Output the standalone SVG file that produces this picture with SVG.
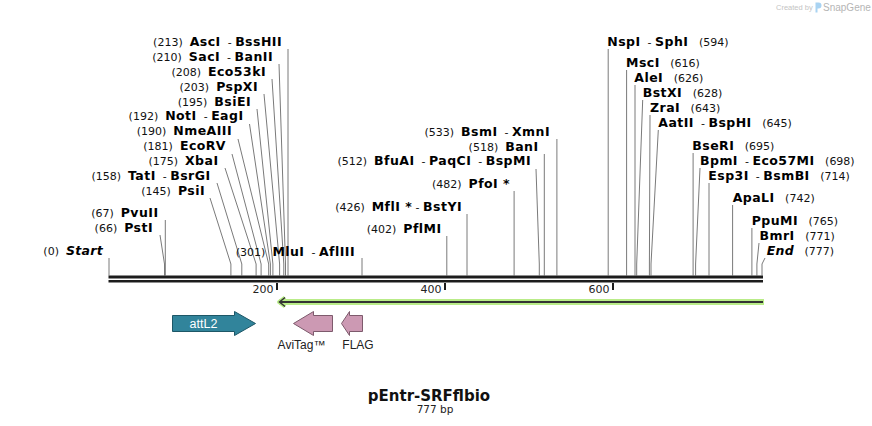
<svg xmlns="http://www.w3.org/2000/svg" width="872" height="426" viewBox="0 0 872 426">
<style>
.lbl{font-family:"DejaVu Sans",Verdana,sans-serif;font-size:11px;fill:#111;white-space:pre}
.b{font-weight:bold;font-size:12.5px;letter-spacing:0.45px;fill:#000}
.bi{font-weight:bold;font-style:italic;font-size:12.5px;letter-spacing:0.3px;fill:#000}
.c{fill:none;stroke:#7a7a7a;stroke-width:1}
.tick{font-family:"DejaVu Sans",Verdana,sans-serif;font-size:11px;fill:#222;text-anchor:end}
.flab{font-family:"Liberation Sans",Arial,sans-serif;font-size:12px;fill:#222;text-anchor:middle}
.pink{fill:#cc99b3;stroke:#7d5a6c;stroke-width:1}
</style>
<rect width="872" height="426" fill="#fff"/>
<g id="watermark">
<text x="776" y="10" font-family="Liberation Sans,Arial,sans-serif" font-size="7.5" fill="#c4c4c4">Created by</text>
<path d="M815.5 2.5 h3 a3 3 0 0 1 0 6 h-1 v4 h-2 z" fill="#a9d3f2"/>
<text x="823" y="11" font-family="Liberation Sans,Arial,sans-serif" font-size="10" fill="#b5b5b5">SnapGene</text>
</g>
<g id="connectors">
<polyline class="c" points="288,49 288,275.5"/>
<polyline class="c" points="279,64 285.5,264 285.5,275.5"/>
<polyline class="c" points="272,79 283.8,264 283.8,275.5"/>
<polyline class="c" points="264,94 279.6,264 279.6,275.5"/>
<polyline class="c" points="257,109 272.9,264 272.9,275.5"/>
<polyline class="c" points="249.5,124 270.4,264 270.4,275.5"/>
<polyline class="c" points="238,139 268.7,264 268.7,275.5"/>
<polyline class="c" points="232,154 261.1,264 261.1,275.5"/>
<polyline class="c" points="225,168 256.1,264 256.1,275.5"/>
<polyline class="c" points="217,183 241.8,264 241.8,275.5"/>
<polyline class="c" points="210,198 230.9,264 230.9,275.5"/>
<polyline class="c" points="165.3,220 165.3,275.5"/>
<polyline class="c" points="160,235 164.5,264 164.5,275.5"/>
<polyline class="c" points="109,258 109,275.5"/>
<polyline class="c" points="362,258 362,275.5"/>
<polyline class="c" points="556.9,139 556.9,275.5"/>
<polyline class="c" points="544.3,154 544.3,275.5"/>
<polyline class="c" points="536,169 539.3,264 539.3,275.5"/>
<polyline class="c" points="514.1,191 514.1,275.5"/>
<polyline class="c" points="467,214 467,275.5"/>
<polyline class="c" points="446.8,236 446.8,275.5"/>
<polyline class="c" points="608.2,49 608.2,275.5"/>
<polyline class="c" points="626.6,70 626.6,275.5"/>
<polyline class="c" points="635,85 635,275.5"/>
<polyline class="c" points="642.7,100 636.7,264 636.7,275.5"/>
<polyline class="c" points="650,115 649.4,264 649.4,275.5"/>
<polyline class="c" points="658.3,130 651,264 651,275.5"/>
<polyline class="c" points="693.1,153 693.1,275.5"/>
<polyline class="c" points="700,168 695.6,264 695.6,275.5"/>
<polyline class="c" points="709,183 709,275.5"/>
<polyline class="c" points="732.6,205 732.6,275.5"/>
<polyline class="c" points="751.9,228 751.9,275.5"/>
<polyline class="c" points="759,243 756.9,264 756.9,275.5"/>
<polyline class="c" points="765,258 762,264 762,275.5"/>
</g>
<g id="backbone">
<rect x="108.5" y="275.5" width="654.5" height="3" fill="#1c1c1c"/>
<rect x="108.5" y="280" width="654.5" height="2.5" fill="#1c1c1c"/>
<rect x="276" y="283" width="2" height="7" fill="#1c1c1c"/>
<rect x="444" y="283" width="2" height="7" fill="#1c1c1c"/>
<rect x="612" y="283" width="2" height="7" fill="#1c1c1c"/>
<text class="tick" x="273.5" y="292.5">200</text>
<text class="tick" x="441.5" y="292.5">400</text>
<text class="tick" x="609.5" y="292.5">600</text>
</g>
<g id="orf">
<rect x="279" y="299" width="485" height="6" fill="#b9ec88"/>
<polyline points="285,297.5 279,302 285,306.5" fill="none" stroke="#b9ec88" stroke-width="4" stroke-linejoin="round"/>
<line x1="280" y1="302" x2="763" y2="302" stroke="#333" stroke-width="2"/>
<polyline points="285,297.5 279.5,302 285,306.5" fill="none" stroke="#333" stroke-width="1.5"/>
</g>
<g id="attL2">
<polygon points="172.5,315.5 234.5,315.5 234.5,311.5 255.5,323.5 234.5,335.5 234.5,331.5 172.5,331.5" fill="#31849b" stroke="#1d5767" stroke-width="1"/>
<text x="203.5" y="327.5" font-family="Liberation Sans,Arial,sans-serif" font-size="12.5" fill="#fff" text-anchor="middle">attL2</text>
</g>
<g id="AviTag">
<polygon class="pink" points="293.5,323.5 313.5,311.5 313.5,315.5 332.5,315.5 332.5,331.5 313.5,331.5 313.5,335.5"/>
<text class="flab" x="301.5" y="349">AviTag™</text>
</g>
<g id="FLAG">
<polygon class="pink" points="341.5,323.5 349.5,311.5 349.5,315.5 362.5,315.5 362.5,331.5 349.5,331.5 349.5,335.5"/>
<text class="flab" x="358" y="349">FLAG</text>
</g>
<g id="site-AscI"><text class="lbl" x="282" y="46" text-anchor="end">(213)  <tspan class="b">AscI</tspan>  - <tspan class="b">BssHII</tspan></text></g>
<g id="site-SacI"><text class="lbl" x="273" y="61" text-anchor="end">(210)  <tspan class="b">SacI</tspan>  - <tspan class="b">BanII</tspan></text></g>
<g id="site-Eco53kI"><text class="lbl" x="266" y="76" text-anchor="end">(208)  <tspan class="b">Eco53kI</tspan></text></g>
<g id="site-PspXI"><text class="lbl" x="258" y="90.5" text-anchor="end">(203)  <tspan class="b">PspXI</tspan></text></g>
<g id="site-BsiEI"><text class="lbl" x="251" y="105.5" text-anchor="end">(195)  <tspan class="b">BsiEI</tspan></text></g>
<g id="site-NotI"><text class="lbl" x="243.5" y="120" text-anchor="end">(192)  <tspan class="b">NotI</tspan>  - <tspan class="b">EagI</tspan></text></g>
<g id="site-NmeAIII"><text class="lbl" x="232" y="135" text-anchor="end">(190)  <tspan class="b">NmeAIII</tspan></text></g>
<g id="site-EcoRV"><text class="lbl" x="226" y="150" text-anchor="end">(181)  <tspan class="b">EcoRV</tspan></text></g>
<g id="site-XbaI"><text class="lbl" x="218.5" y="165" text-anchor="end">(175)  <tspan class="b">XbaI</tspan></text></g>
<g id="site-TatI"><text class="lbl" x="210.5" y="180" text-anchor="end">(158)  <tspan class="b">TatI</tspan>  - <tspan class="b">BsrGI</tspan></text></g>
<g id="site-PsiI"><text class="lbl" x="205" y="195" text-anchor="end">(145)  <tspan class="b">PsiI</tspan></text></g>
<g id="site-PvuII"><text class="lbl" x="158.5" y="217" text-anchor="end">(67)  <tspan class="b">PvuII</tspan></text></g>
<g id="site-PstI"><text class="lbl" x="153" y="232" text-anchor="end">(66)  <tspan class="b">PstI</tspan></text></g>
<g id="site-Start"><text class="lbl" x="103" y="255" text-anchor="end">(0)  <tspan class="bi">Start</tspan></text></g>
<g id="site-MluI"><text class="lbl" x="355" y="255.5" text-anchor="end">(301)  <tspan class="b">MluI</tspan>  - <tspan class="b">AflIII</tspan></text></g>
<g id="site-BsmI"><text class="lbl" x="550" y="135.5" text-anchor="end">(533)  <tspan class="b">BsmI</tspan>  - <tspan class="b">XmnI</tspan></text></g>
<g id="site-BanI"><text class="lbl" x="538.5" y="150.5" text-anchor="end">(518)  <tspan class="b">BanI</tspan></text></g>
<g id="site-BfuAI"><text class="lbl" x="531" y="165" text-anchor="end">(512)  <tspan class="b">BfuAI</tspan>  - <tspan class="b">PaqCI</tspan>  - <tspan class="b">BspMI</tspan></text></g>
<g id="site-PfoI"><text class="lbl" x="510" y="187.5" text-anchor="end">(482)  <tspan class="b">PfoI *</tspan></text></g>
<g id="site-MflI"><text class="lbl" x="462" y="210.5" text-anchor="end">(426)  <tspan class="b">MflI *</tspan> - <tspan class="b">BstYI</tspan></text></g>
<g id="site-PflMI"><text class="lbl" x="441.5" y="232.5" text-anchor="end">(402)  <tspan class="b">PflMI</tspan></text></g>
<g id="site-NspI"><text class="lbl" x="607.3" y="46"><tspan class="b">NspI</tspan>  - <tspan class="b">SphI</tspan>   (594)</text></g>
<g id="site-MscI"><text class="lbl" x="626" y="67"><tspan class="b">MscI</tspan>   (616)</text></g>
<g id="site-AleI"><text class="lbl" x="634.3" y="82"><tspan class="b">AleI</tspan>   (626)</text></g>
<g id="site-BstXI"><text class="lbl" x="642.7" y="97"><tspan class="b">BstXI</tspan>   (628)</text></g>
<g id="site-ZraI"><text class="lbl" x="650" y="112"><tspan class="b">ZraI</tspan>   (643)</text></g>
<g id="site-AatII"><text class="lbl" x="658.3" y="127"><tspan class="b">AatII</tspan>  - <tspan class="b">BspHI</tspan>   (645)</text></g>
<g id="site-BseRI"><text class="lbl" x="692.3" y="149.5"><tspan class="b">BseRI</tspan>   (695)</text></g>
<g id="site-BpmI"><text class="lbl" x="700" y="165"><tspan class="b">BpmI</tspan>  - <tspan class="b">Eco57MI</tspan>   (698)</text></g>
<g id="site-Esp3I"><text class="lbl" x="708.3" y="180"><tspan class="b">Esp3I</tspan>  - <tspan class="b">BsmBI</tspan>   (714)</text></g>
<g id="site-ApaLI"><text class="lbl" x="732.7" y="202"><tspan class="b">ApaLI</tspan>   (742)</text></g>
<g id="site-PpuMI"><text class="lbl" x="751.7" y="224.5"><tspan class="b">PpuMI</tspan>   (765)</text></g>
<g id="site-BmrI"><text class="lbl" x="759.5" y="239.5"><tspan class="b">BmrI</tspan>   (771)</text></g>
<g id="site-End"><text class="lbl" x="766.7" y="254.5"><tspan class="bi">End</tspan>   (777)</text></g>
<g id="title">
<text x="429" y="400.5" font-family="DejaVu Sans,Verdana,sans-serif" font-size="15" font-weight="bold" fill="#111" text-anchor="middle">pEntr-SRFflbio</text>
<text x="435" y="413" font-family="DejaVu Sans,Verdana,sans-serif" font-size="10.5" fill="#222" text-anchor="middle">777 bp</text>
</g>
</svg>
